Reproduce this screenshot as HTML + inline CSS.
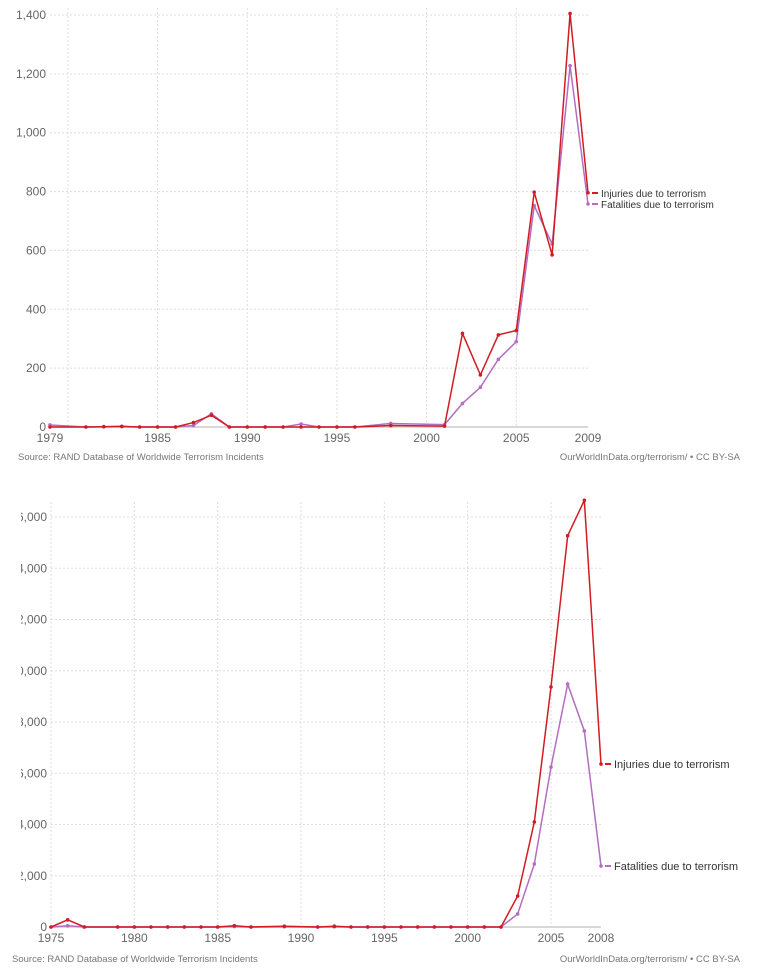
<!DOCTYPE html>
<html><head><meta charset="utf-8"><style>
body{margin:0;background:#fff;width:760px;height:974px;overflow:hidden;font-family:"Liberation Sans",sans-serif}
svg{position:absolute;left:0;top:0}
</style></head><body>
<svg id="s" width="760" height="974">
<defs><clipPath id="cl"><rect x="21" y="0" width="760" height="974"/></clipPath></defs>
</svg>
<script>
// ---- Chart 1 data ----
const years1 = [1979,1981,1982,1983,1984,1985,1986,1987,1988,1989,1990,1991,1992,1993,1994,1995,1996,1998,2001,2002,2003,2004,2005,2006,2007,2008,2009];
const injuries1 = [0,0,1,2,0,0,0,15,40,0,0,0,0,0,0,0,0,5,3,318,177,313,328,798,585,1405,796];
const fatalities1 = [7,0,1,2,0,0,0,5,45,0,0,0,0,10,0,0,0,12,8,80,135,230,290,752,622,1228,758];
const yTicks1 = [0,200,400,600,800,1000,1200,1400];
const xTicks1 = [1979,1985,1990,1995,2000,2005,2009];
const xGrid1 = [1980,1985,1990,1995,2000,2005];
// ---- Chart 2 data ----
const years2 = [1975,1976,1977,1979,1980,1981,1982,1983,1984,1985,1986,1987,1989,1991,1992,1993,1994,1995,1996,1997,1998,1999,2000,2001,2002,2003,2004,2005,2006,2007,2008];
const injuries2 = [0,280,0,0,0,0,0,0,0,0,50,0,30,0,30,0,0,0,0,0,0,0,0,0,0,1210,4100,9370,15270,16650,6360];
const fatalities2 = [0,50,0,0,0,0,0,0,0,0,20,0,10,0,10,0,0,0,0,0,0,0,0,0,0,510,2460,6240,9480,7650,2380];
const yTicks2 = [0,2000,4000,6000,8000,10000,12000,14000,16000];
const xTicks2 = [1975,1980,1985,1990,1995,2000,2005,2008];
const xGrid2 = [1975,1980,1985,1990,1995,2000,2005];

const NS="http://www.w3.org/2000/svg", svg=document.getElementById('s');
function el(t,a,p){const e=document.createElementNS(NS,t);for(const k in a)e.setAttribute(k,a[k]);(p||svg).appendChild(e);return e;}
function fmt(v){return v.toLocaleString('en-US');}

function chart(cfg){
  const g=el('g',{});
  
  
  const X=v=>cfg.x0+(v-cfg.xmin)/(cfg.xmax-cfg.xmin)*(cfg.x1-cfg.x0);
  const Y=v=>cfg.y0-(v/cfg.ymax)*(cfg.y0-cfg.y1);
  cfg.xGrid.forEach(v=>{const l=el('line',{x1:X(v),x2:X(v),y1:cfg.gTop,y2:cfg.y0,stroke:'#ddd','stroke-dasharray':'2,2'},g);
    });
  const yl=el('g',cfg.clip?{'clip-path':'url(#cl)'}:{},g);
  cfg.yTicks.forEach(v=>{
    if(v>0){const l=el('line',{x1:cfg.x0,x2:cfg.x1,y1:Y(v),y2:Y(v),stroke:'#ddd','stroke-dasharray':'2,2'},g);
      }
    const t=el('text',{x:cfg.x0-4,y:Y(v)+4,'text-anchor':'end','font-size':cfg.fs,fill:'#666'},yl);t.textContent=fmt(v);
    
  });
  const b=el('line',{x1:cfg.x0,x2:cfg.x1,y1:cfg.y0,y2:cfg.y0,stroke:'#ccc','stroke-width':1.5},g);
  
  cfg.xTicks.forEach(v=>{const t=el('text',{x:X(v),y:cfg.y0+15,'text-anchor':'middle','font-size':cfg.fs,fill:'#666'},g);t.textContent=v;
    });
  [[cfg.fat,'#b36ec0','fatalities'],[cfg.inj,'#d11c24','injuries']].forEach(([vals,c,n])=>{
    const p=el('polyline',{points:cfg.years.map((y,i)=>X(y)+','+Y(vals[i])).join(' '),fill:'none',stroke:c,'stroke-width':1.5},g);
    
    cfg.years.forEach((y,i)=>{const d=el('circle',{cx:X(y),cy:Y(vals[i]),r:1.8,fill:c},g);
      });
  });
  cfg.legend.forEach(([ly,c,txt])=>{
    el('line',{x1:cfg.x1+4,x2:cfg.x1+10,y1:ly,y2:ly,stroke:c,'stroke-width':2},g);
    const t=el('text',{x:cfg.x1+13,y:ly+4,'font-size':cfg.lfs,fill:'#333'},g);t.textContent=txt;
    
  });
  const s=el('text',{x:cfg.srcX,y:cfg.srcY,'font-size':9.5,fill:'#777'},g);s.textContent='Source: RAND Database of Worldwide Terrorism Incidents';
  
  const o=el('text',{x:740,y:cfg.srcY,'text-anchor':'end','font-size':9.5,fill:'#777'},g);o.textContent='OurWorldInData.org/terrorism/ • CC BY-SA';
  
}
chart({name:'chart-1979-2009',clip:false,x0:50,x1:588,xmin:1979,xmax:2009,y0:427,y1:15,ymax:1400,gTop:8,fs:12,lfs:10,
  years:years1,inj:injuries1,fat:fatalities1,yTicks:yTicks1,xTicks:xTicks1,xGrid:xGrid1,
  legend:[[193,'#d11c24','Injuries due to terrorism'],[204,'#b36ec0','Fatalities due to terrorism']],srcX:18,srcY:460});
chart({name:'chart-1975-2008',clip:true,x0:51,x1:601,xmin:1975,xmax:2008,y0:927,y1:517,ymax:16000,gTop:502,fs:12,lfs:11,
  years:years2,inj:injuries2,fat:fatalities2,yTicks:yTicks2,xTicks:xTicks2,xGrid:xGrid2,
  legend:[[764,'#d11c24','Injuries due to terrorism'],[866,'#b36ec0','Fatalities due to terrorism']],srcX:12,srcY:962});
</script>
</body></html>
